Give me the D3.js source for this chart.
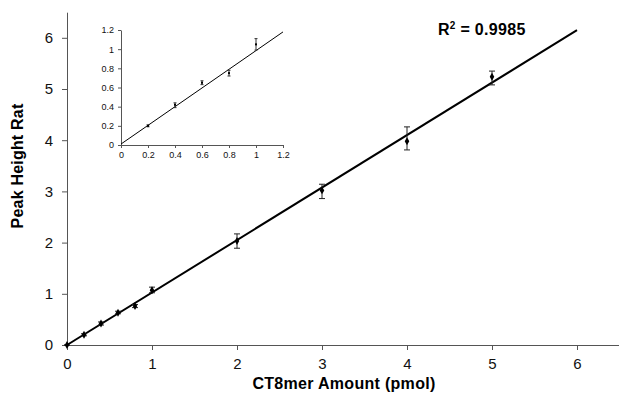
<!DOCTYPE html>
<html>
<head>
<meta charset="utf-8">
<script src="https://cdn.jsdelivr.net/npm/d3@7"></script>
<style>
body { margin: 0; background: #fff; }
svg { font-family: "Liberation Sans", Arial, sans-serif; }
.axis path, .axis line { stroke: #555; }
.axis text { fill: #111; }
</style>
</head>
<body>
<script>
// main calibration data (pmol vs peak height ratio)
var amounts = [0, 0.2, 0.4, 0.6, 0.8, 1, 2, 3, 4, 5];
var ratios = [0, 0.2, 0.42, 0.63, 0.76, 1.07, 2.03, 3.02, 3.98, 5.24];
var errLow = [0, 0.18, 0.39, 0.61, 0.73, 1.02, 1.89, 2.86, 3.81, 5.08];
var errHigh = [0, 0.22, 0.45, 0.66, 0.79, 1.13, 2.17, 3.14, 4.26, 5.35];
var fitLine = [[0, 0], [6, 6.15]];
var mainTicks = [0, 1, 2, 3, 4, 5, 6];

// inset (low range)
var insetAmounts = [0.2, 0.4, 0.6, 0.8, 1];
var insetRatios = [0.2, 0.42, 0.65, 0.75, 1.05];
var insetLow = [0.19, 0.39, 0.63, 0.72, 0.99];
var insetHigh = [0.21, 0.44, 0.67, 0.78, 1.11];
var insetFit = [[0, 0.01], [1.2, 1.18]];
var insetTicks = [0, 0.2, 0.4, 0.6, 0.8, 1, 1.2];

var w = 619;
var h = 397;

var svg = d3.select("body")
			.append("svg")
			.attr("width", w)
			.attr("height", h);

var xScale = d3.scaleLinear()
					.domain([0, 6.5])
					.range([67, 619.5]);
var yScale = d3.scaleLinear()
					.domain([0, 6.5])
					.range([345, 12.2]);

var xAxis = d3.axisBottom(xScale).tickValues(mainTicks).tickSize(5).tickSizeOuter(0).tickPadding(8).tickFormat(d3.format("d"));
var yAxis = d3.axisLeft(yScale).tickValues(mainTicks).tickSize(5).tickSizeOuter(0).tickPadding(9).tickFormat(d3.format("d"));

svg.append("g")
	.attr("class", "axis")
	.attr("transform", "translate(0," + yScale(0) + ")")
	.call(xAxis)
	.selectAll("text").style("font-size", "15px");
svg.append("g")
	.attr("class", "axis")
	.attr("transform", "translate(" + xScale(0) + ",0)")
	.call(yAxis)
	.selectAll("text").style("font-size", "15px");

// regression line
svg.append("line")
	.attr("x1", xScale(fitLine[0][0]))
	.attr("y1", yScale(fitLine[0][1]))
	.attr("x2", xScale(fitLine[1][0]))
	.attr("y2", yScale(fitLine[1][1]))
	.attr("stroke", "#000")
	.attr("stroke-width", 2);

// error bars
var eb = svg.selectAll("g.err")
	.data(amounts)
	.enter()
	.append("g")
	.attr("class", "err");
eb.append("line")
	.attr("x1", function(d){ return xScale(d); })
	.attr("x2", function(d){ return xScale(d); })
	.attr("y1", function(d, i){ return yScale(errLow[i]); })
	.attr("y2", function(d, i){ return yScale(errHigh[i]); })
	.attr("stroke", "#222");
eb.selectAll("line.cap")
	.data(function(d, i){ return [[d, errLow[i]], [d, errHigh[i]]]; })
	.enter()
	.append("line")
	.attr("class", "cap")
	.attr("x1", function(d){ return xScale(d[0]) - 3; })
	.attr("x2", function(d){ return xScale(d[0]) + 3; })
	.attr("y1", function(d){ return yScale(d[1]); })
	.attr("y2", function(d){ return yScale(d[1]); })
	.attr("stroke", "#222");

// diamond markers
svg.selectAll("path.pt")
	.data(amounts)
	.enter()
	.append("path")
	.attr("class", "pt")
	.attr("d", d3.symbol().type(d3.symbolDiamond).size(18))
	.attr("transform", function(d, i){
		return "translate(" + xScale(d) + "," + yScale(ratios[i]) + ")";
	})
	.attr("fill", "#000");

// titles
svg.append("text")
	.attr("x", 344)
	.attr("y", 389)
	.attr("text-anchor", "middle")
	.style("font-weight", "bold")
	.style("font-size", "16px")
	.style("letter-spacing", "0.3px")
	.text("CT8mer Amount (pmol)");
svg.append("text")
	.attr("transform", "translate(23,166) rotate(-90)")
	.attr("text-anchor", "middle")
	.style("font-weight", "bold")
	.style("font-size", "16px")
	.style("letter-spacing", "0.2px")
	.text("Peak Height Rat");
var r2 = svg.append("text")
	.attr("x", 438)
	.attr("y", 35)
	.style("font-weight", "bold")
	.style("font-size", "16px")
	.style("letter-spacing", "0.3px");
r2.append("tspan").text("R");
r2.append("tspan").attr("dy", -6).style("font-size", "10px").text("2");
r2.append("tspan").attr("dy", 6).text(" = 0.9985");

// inset chart
var ix = d3.scaleLinear().domain([0, 1.2]).range([121, 283]);
var iy = d3.scaleLinear().domain([0, 1.2]).range([145, 30]);

var ixAxis = d3.axisBottom(ix).tickValues(insetTicks).tickSize(3).tickSizeOuter(0).tickPadding(4).tickFormat(d3.format("~g"));
var iyAxis = d3.axisLeft(iy).tickValues(insetTicks).tickSize(3).tickSizeOuter(0).tickPadding(4).tickFormat(d3.format("~g"));

svg.append("g")
	.attr("class", "axis")
	.attr("transform", "translate(0," + iy(0) + ")")
	.call(ixAxis)
	.selectAll("text").style("font-size", "9px");
svg.append("g")
	.attr("class", "axis")
	.attr("transform", "translate(" + ix(0) + ",0)")
	.call(iyAxis)
	.selectAll("text").style("font-size", "9px");

svg.append("line")
	.attr("x1", ix(insetFit[0][0]))
	.attr("y1", iy(insetFit[0][1]))
	.attr("x2", ix(insetFit[1][0]))
	.attr("y2", iy(insetFit[1][1]))
	.attr("stroke", "#000")
	.attr("stroke-width", 1);

var ieb = svg.selectAll("g.ierr")
	.data(insetAmounts)
	.enter()
	.append("g")
	.attr("class", "ierr");
ieb.append("line")
	.attr("x1", function(d){ return ix(d); })
	.attr("x2", function(d){ return ix(d); })
	.attr("y1", function(d, i){ return iy(insetLow[i]); })
	.attr("y2", function(d, i){ return iy(insetHigh[i]); })
	.attr("stroke", "#333");
ieb.selectAll("line.cap")
	.data(function(d, i){ return [[d, insetLow[i]], [d, insetHigh[i]]]; })
	.enter()
	.append("line")
	.attr("class", "cap")
	.attr("x1", function(d){ return ix(d[0]) - 1.5; })
	.attr("x2", function(d){ return ix(d[0]) + 1.5; })
	.attr("y1", function(d){ return iy(d[1]); })
	.attr("y2", function(d){ return iy(d[1]); })
	.attr("stroke", "#333");
svg.selectAll("rect.ipt")
	.data(insetAmounts)
	.enter()
	.append("rect")
	.attr("class", "ipt")
	.attr("x", function(d){ return ix(d) - 1; })
	.attr("y", function(d, i){ return iy(insetRatios[i]) - 1; })
	.attr("width", 2)
	.attr("height", 2)
	.attr("fill", "#000");
</script>
</body>
</html>
